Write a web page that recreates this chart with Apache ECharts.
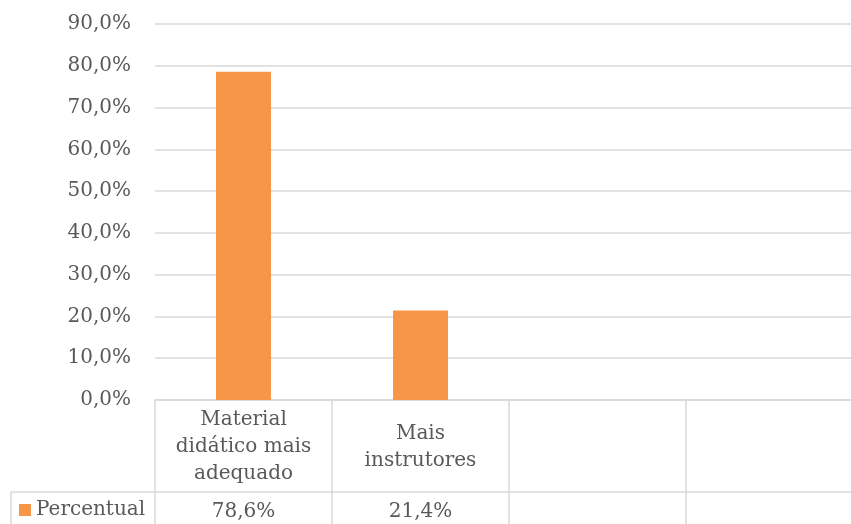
<!DOCTYPE html>
<html>
<head>
<meta charset="utf-8">
<script src="https://cdn.jsdelivr.net/npm/echarts@6/dist/echarts.min.js"></script>
<style>
html,body{margin:0;padding:0;background:#fff;}
#chart{width:851px;height:524px;}
</style>
</head>
<body>
<div id="chart"></div>
<script>
var categories = ["Material didático mais adequado", "Mais instrutores", "", ""];
var seriesName = "Percentual";
var values = [78.6, 21.4, null, null];
var yTicks = [0, 10, 20, 30, 40, 50, 60, 70, 80, 90];

var FONT = "DejaVu Serif";
var TXT = "#595959";
var LINE = "#d9d9d9";

function pct(v) { return v.toFixed(1).replace('.', ',') + '%'; }

var ctx = document.createElement('canvas').getContext('2d');
ctx.font = '20px "' + FONT + '"';
function wrap(text, maxW) {
  var words = text.split(' '), lines = [], cur = '';
  words.forEach(function (w) {
    var t = cur ? cur + ' ' + w : w;
    if (cur && ctx.measureText(t).width > maxW) { lines.push(cur); cur = w; }
    else cur = t;
  });
  if (cur) lines.push(cur);
  return lines.join('\n');
}

var chart = echarts.init(document.getElementById('chart'));
chart.setOption({
  animation: false,
  grid: { left: 155, width: 708, top: 24, bottom: 124, containLabel: false, outerBoundsMode: 'none' },
  legend: {
    data: [seriesName],
    left: 19, top: 500, padding: 0,
    icon: 'rect', itemWidth: 12, itemHeight: 12, itemGap: 5,
    textStyle: { fontFamily: FONT, fontSize: 20, color: TXT },
    selectedMode: false
  },
  xAxis: [
    {
      type: 'category', data: categories, position: 'bottom',
      axisLine: { show: true, lineStyle: { color: LINE, width: 1.5 } },
      axisTick: { show: true, length: 124, interval: 0, lineStyle: { color: LINE, width: 1.5 } },
      axisLabel: {
        interval: 0, margin: 47, verticalAlign: 'middle',
        fontFamily: FONT, fontSize: 20, color: TXT, lineHeight: 27, align: 'center',
        formatter: function (v) { return wrap(v, 160); }
      }
    },
    {
      type: 'category', data: categories, position: 'bottom', offset: 92,
      axisLine: { show: true, lineStyle: { color: LINE, width: 1.5 } },
      axisTick: { show: true, length: 40, interval: 0, lineStyle: { color: LINE, width: 1.5 } },
      axisLabel: {
        interval: 0, margin: 20, verticalAlign: 'middle',
        fontFamily: FONT, fontSize: 20, color: TXT,
        formatter: function (v, i) { return values[i] == null ? '' : pct(values[i]); }
      }
    }
  ],
  yAxis: {
    type: 'value', min: yTicks[0], max: yTicks[yTicks.length - 1], interval: 10,
    axisLine: { show: false }, axisTick: { show: false },
    splitLine: { lineStyle: { color: LINE, width: 1.5 } },
    axisLabel: {
      margin: 24, fontFamily: FONT, fontSize: 20, color: TXT,
      formatter: function (v) { return pct(v); }
    }
  },
  series: [{
    name: seriesName, type: 'bar', data: values, barWidth: 55,
    itemStyle: { color: '#f79646' }, xAxisIndex: 0
  }],
  graphic: [
    { type: 'line', shape: { x1: 11, y1: 492, x2: 155, y2: 492 }, style: { stroke: LINE, lineWidth: 1.5 } },
    { type: 'line', shape: { x1: 11, y1: 492, x2: 11, y2: 524 }, style: { stroke: LINE, lineWidth: 1.5 } }
  ]
});
</script>
</body>
</html>
